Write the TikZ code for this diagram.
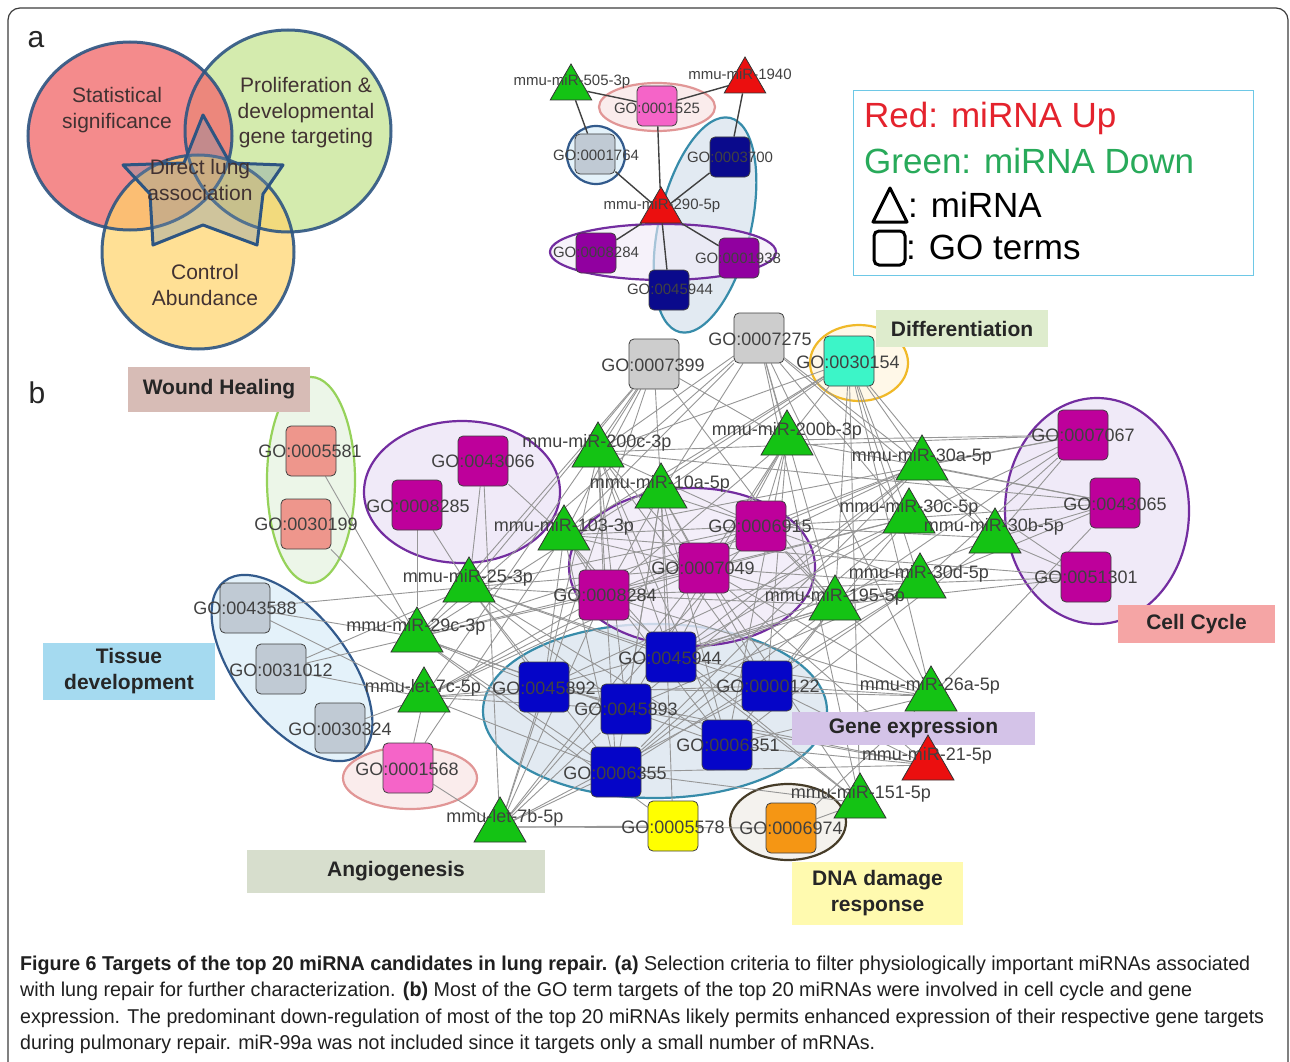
\documentclass[tikz,border=0pt]{standalone}
\usepackage{fontspec}
\usepackage{graphicx}
\setmainfont{Liberation Sans}
\usetikzlibrary{shapes.geometric}
\pgfdeclarelayer{bg}
\pgfdeclarelayer{edges}
\pgfsetlayers{bg,edges,main}
\definecolor{mirg}{RGB}{20,195,20}
\definecolor{mirr}{RGB}{235,15,15}
\definecolor{gomag}{RGB}{190,0,155}
\definecolor{gonavy}{RGB}{5,5,200}
\definecolor{gonavyd}{RGB}{10,10,140}
\definecolor{gopurp}{RGB}{145,0,160}
\definecolor{gogray}{RGB}{205,205,205}
\definecolor{gogrblue}{RGB}{192,202,212}
\definecolor{gosalmon}{RGB}{238,150,140}
\definecolor{gopink}{RGB}{245,100,200}
\definecolor{gocyan}{RGB}{60,245,200}
\definecolor{goyellow}{RGB}{255,255,0}
\definecolor{goorange}{RGB}{245,150,20}
\definecolor{labgray}{RGB}{65,65,65}
\definecolor{edgegray}{RGB}{150,150,150}
\definecolor{framec}{RGB}{60,60,60}
\definecolor{vennred}{RGB}{242,110,112}
\definecolor{venngreen}{RGB}{205,232,160}
\definecolor{vennyellow}{RGB}{255,212,105}
\definecolor{vennline}{RGB}{45,85,130}
\definecolor{starc}{RGB}{120,145,170}
\definecolor{venntext}{RGB}{65,50,50}
\definecolor{legc}{RGB}{110,200,230}
\definecolor{legred}{RGB}{228,35,45}
\definecolor{leggreen}{RGB}{40,170,90}
\definecolor{purpd}{RGB}{115,45,160}\definecolor{purpf}{RGB}{240,234,248}
\definecolor{teald}{RGB}{55,140,170}\definecolor{tealf}{RGB}{226,234,242}
\definecolor{blued}{RGB}{50,90,140}\definecolor{bluef}{RGB}{228,242,250}
\definecolor{greend}{RGB}{150,210,90}\definecolor{greenf}{RGB}{236,246,232}
\definecolor{pinkd}{RGB}{225,150,150}\definecolor{pinkf}{RGB}{250,236,236}
\definecolor{orad}{RGB}{240,185,40}\definecolor{oraf}{RGB}{255,248,232}
\definecolor{darkd}{RGB}{70,60,40}\definecolor{darkf}{RGB}{244,242,238}
\definecolor{cwound}{RGB}{215,188,182}
\definecolor{cdiff}{RGB}{222,236,205}
\definecolor{ctissue}{RGB}{165,218,240}
\definecolor{ccell}{RGB}{245,165,165}
\definecolor{cgene}{RGB}{212,195,232}
\definecolor{cangio}{RGB}{215,222,205}
\definecolor{cdna}{RGB}{255,250,175}
\tikzset{
  tri/.style={regular polygon, regular polygon sides=3, minimum size=60pt, inner sep=0pt, draw=black!80, line width=0.8pt},
  trig/.style={tri, fill=mirg},
  trir/.style={tri, fill=mirr},
  smalltri/.style={minimum size=48pt},
  gosq/.style={rectangle, rounded corners=5pt, minimum size=50pt, inner sep=0pt, draw=black!75, line width=0.8pt},
  smallsq/.style={minimum size=40pt},
  lab/.style={text=labgray, font=\fontsize{18}{18}\selectfont, inner sep=0pt},
  slab/.style={text=labgray, font=\fontsize{15}{15}\selectfont, inner sep=0pt},
  edge/.style={draw=edgegray, line width=0.9pt},
  tedge/.style={draw=black!75, line width=1.4pt},
  grp/.style={line width=2.2pt},
  catbox/.style={font=\fontsize{21}{26}\selectfont\bfseries, text=black!85, align=center, inner sep=0pt},
  venntxt/.style={font=\fontsize{21}{25.5}\selectfont, text=venntext, align=center, inner sep=0pt},
  legtxt/.style={font=\fontsize{35}{35}\selectfont, anchor=west, inner sep=0pt},
  captxt/.style={font=\fontsize{20}{20}\selectfont, text=black!88, anchor=west, inner sep=0pt},
}
\begin{document}
\begin{tikzpicture}[x=1pt,y=-1pt]
\useasboundingbox (0,0) rectangle (1290,1062);
\begin{pgfonlayer}{bg}
\fill[white] (0,0) rectangle (1290,1062);
% group ellipses, top network
\filldraw[grp, draw=pinkd, fill=pinkf] (657,107) ellipse [x radius=58, y radius=24];
\filldraw[grp, draw=blued, fill=bluef] (596,155) circle [radius=29];
\filldraw[grp, draw=teald, fill=tealf, rotate around={76.8:(705,225)}] (705,225) ellipse [x radius=110, y radius=46];
\filldraw[grp, draw=purpd, fill=purpf, fill opacity=0.6] (663,252) ellipse [x radius=113, y radius=28];
% group ellipses, network b
\filldraw[grp, draw=greend, fill=greenf] (311,480) ellipse [x radius=44, y radius=103];
\filldraw[grp, draw=purpd, fill=purpf] (462,492) ellipse [x radius=98, y radius=71];
\filldraw[grp, draw=teald, fill=tealf] (655,711) ellipse [x radius=172, y radius=87];
\filldraw[grp, draw=purpd, fill=purpf, fill opacity=0.8] (692,567) ellipse [x radius=123, y radius=79];
\filldraw[grp, draw=purpd, fill=purpf] (1097,511) ellipse [x radius=92, y radius=113];
\filldraw[grp, draw=blued, fill=bluef, rotate around={-52:(292,668)}] (292,668) ellipse [x radius=110, y radius=55];
\filldraw[grp, draw=pinkd, fill=pinkf] (410,778) ellipse [x radius=67, y radius=31];
\filldraw[grp, draw=orad, fill=oraf] (859,363) ellipse [x radius=49, y radius=38];
\filldraw[grp, draw=darkd, fill=darkf] (788,822) ellipse [x radius=58, y radius=38];
\end{pgfonlayer}

% frame
\draw[framec, line width=1.2pt, rounded corners=12pt] (8,1075) -- (8,8) -- (1288,8) -- (1288,1075);

% ---------- panel a : Venn ----------
\node[font=\fontsize{30}{30}\selectfont, text=black!85, inner sep=0pt] (la) at (36,40) {a};
\fill[venngreen, fill opacity=0.85] (288,131) ellipse [x radius=103, y radius=101];
\fill[vennred, fill opacity=0.8] (130,136) ellipse [x radius=102, y radius=94];
\fill[vennyellow, fill opacity=0.7] (198,252) ellipse [x radius=96, y radius=97];
\draw[vennline, line width=3pt, draw opacity=0.9] (288,131) ellipse [x radius=103, y radius=101];
\draw[vennline, line width=3pt, draw opacity=0.9] (130,136) ellipse [x radius=102, y radius=94];
\draw[vennline, line width=3pt, draw opacity=0.9] (198,252) ellipse [x radius=96, y radius=97];
\filldraw[fill=starc, fill opacity=0.35, draw=vennline, line width=3pt, line join=round]
  (203,115) -- (230,163) -- (283,165) -- (263,194) -- (257,245) -- (203,225) -- (153,245) -- (150,194) -- (123,165) -- (184,163) -- cycle;
\node[venntxt] (vstat) at (117,110) {Statistical\\significance};
\node[venntxt] (vprol) at (306,113) {Proliferation \&\\developmental\\gene targeting};
\node[venntxt] (vdir) at (200,180) {Direct lung\\association};
\node[venntxt] (vctrl) at (205,285) {Control\\Abundance};

% ---------- legend ----------
\node[draw=legc, line width=1.3pt, minimum width=400pt, minimum height=185pt, anchor=north west, inner sep=0pt] (legend) at (853,90) {};
\node[legtxt, text=legred] (lred) at (864,118) {Red: miRNA Up};
\node[legtxt, text=leggreen] (lgreen) at (864,161) {Green: miRNA Down};
\draw[line width=3pt, line join=round] (873,222) -- (890,188) -- (907,222) -- cycle;
\node[legtxt, text=black] (ltri) at (908,205) {: miRNA};
\draw[line width=3pt, rounded corners=5pt] (874,231) rectangle (905,265);
\node[legtxt, text=black] (lsq) at (906,247) {: GO terms};

% ---------- top network ----------
\node[trig, smalltri] (t505) at (571,88) {};
\node[trir, smalltri] (t1940) at (745,81) {};
\node[trir, smalltri] (t290) at (661,211) {};
\node[gosq, smallsq, fill=gopink] (tg1525) at (657,106) {};
\node[gosq, smallsq, fill=gogrblue] (tg1764) at (595,154) {};
\node[gosq, smallsq, fill=gonavyd] (tg3700) at (730,157) {};
\node[gosq, smallsq, fill=gopurp] (tg8284) at (596,253) {};
\node[gosq, smallsq, fill=gopurp] (tg1938) at (739,258) {};
\node[gosq, smallsq, fill=gonavyd] (tg45944) at (669,290) {};
\begin{pgfonlayer}{edges}
\foreach \a/\b in {t505/tg1525, t505/tg1764, t1940/tg1525, t1940/tg3700, t290/tg1525, t290/tg1764, t290/tg3700, t290/tg8284, t290/tg45944, t290/tg1938}
  \draw[tedge] (\a) -- (\b);
\end{pgfonlayer}

% ---------- network b : GO terms ----------
\node[font=\fontsize{30}{30}\selectfont, text=black!85, inner sep=0pt] (lb) at (37,393) {b};
\node[gosq, fill=gogray] (g7399) at (654,364) {};
\node[gosq, fill=gogray] (g7275) at (759,338) {};
\node[gosq, fill=gocyan] (g30154) at (849,361) {};
\node[gosq, fill=gosalmon] (g5581) at (311,451) {};
\node[gosq, fill=gosalmon] (g30199) at (306,524) {};
\node[gosq, fill=gomag] (g43066) at (483,461) {};
\node[gosq, fill=gomag] (g8285) at (417,505) {};
\node[gosq, fill=gomag] (g6915) at (761,526) {};
\node[gosq, fill=gomag] (g7049) at (704,568) {};
\node[gosq, fill=gomag] (g8284) at (604,595) {};
\node[gosq, fill=gomag] (g7067) at (1083,435) {};
\node[gosq, fill=gomag] (g43065) at (1115,503) {};
\node[gosq, fill=gomag] (g51301) at (1086,577) {};
\node[gosq, fill=gogrblue] (g43588) at (245,608) {};
\node[gosq, fill=gogrblue] (g31012) at (281,669) {};
\node[gosq, fill=gogrblue] (g30324) at (340,728) {};
\node[gosq, fill=gopink] (g1568) at (408,768) {};
\node[gosq, fill=gonavy] (g45944) at (671,657) {};
\node[gosq, fill=gonavy] (g45892) at (544,687) {};
\node[gosq, fill=gonavy] (g45893) at (626,709) {};
\node[gosq, fill=gonavy] (g122) at (767,686) {};
\node[gosq, fill=gonavy] (g6351) at (727,745) {};
\node[gosq, fill=gonavy] (g6355) at (616,772) {};
\node[gosq, fill=goyellow] (g5578) at (673,826) {};
\node[gosq, fill=goorange] (g6974) at (791,828) {};

% ---------- category boxes ----------
\node[catbox, fill=cwound, minimum width=182pt, minimum height=45pt] (cwoundb) at (219,389.5) {Wound Healing};
\node[catbox, fill=cdiff, minimum width=172pt, minimum height=37pt] (cdiffb) at (962,328.5) {Differentiation};
\node[catbox, fill=ctissue, minimum width=172pt, minimum height=57pt] (ctissueb) at (129,671.5) {Tissue\\development};
\node[catbox, fill=ccell, minimum width=157pt, minimum height=38pt] (ccellb) at (1196.5,624) {Cell Cycle};
\node[catbox, fill=cgene, minimum width=243pt, minimum height=33pt] (cgeneb) at (913.5,728.5) {Gene expression};
\node[catbox, fill=cangio, minimum width=298pt, minimum height=43pt] (cangiob) at (396,871.5) {Angiogenesis};
\node[catbox, fill=cdna, minimum width=171pt, minimum height=63pt] (cdnab) at (877.5,893.5) {DNA damage\\response};

% ---------- network b : miRNAs ----------
\node[trig] (t200c) at (598,452) {};
\node[trig] (t10a) at (661,493) {};
\node[trig] (t103) at (564,535) {};
\node[trig] (t25) at (469,587) {};
\node[trig] (t29c) at (417,637) {};
\node[trig] (t200b) at (787,440) {};
\node[trig] (t30a) at (922,465) {};
\node[trig] (t30c) at (909,518) {};
\node[trig] (t30b) at (995,538) {};
\node[trig] (t30d) at (920,583) {};
\node[trig] (t195) at (835,605) {};
\node[trig] (t7c) at (424,697) {};
\node[trig] (t26a) at (931,696) {};
\node[trir] (t21) at (928,765) {};
\node[trig] (t151) at (860,803) {};
\node[trig] (t7b) at (500,827) {};

\begin{pgfonlayer}{edges}
\foreach \m/\gs in {
  t200c/{g7399,g7275,g30154,g45944,g45892,g45893,g6351,g6355,g7049,g8284,g6915,g122,g7067,g43065},
  t10a/{g7399,g7275,g30154,g45944,g45893,g6355,g7049,g8284,g6915,g122,g6351,g5578},
  t103/{g7399,g7275,g30154,g43066,g7049,g6915,g45944,g45892,g6355,g6351,g7067,g51301,g8284,g1568},
  t25/{g8285,g43066,g7399,g7049,g8284,g45944,g45892,g45893,g6355,g6351,g122,g31012,g43588,g6915},
  t29c/{g5581,g30199,g8285,g43588,g31012,g7399,g7275,g45892,g45893,g6355,g6351,g8284,g7049,g5578,g30154,g6915},
  t200b/{g7399,g7275,g30154,g7049,g6915,g45944,g45893,g122,g6351,g7067,g43065,g8284},
  t30a/{g7275,g30154,g7067,g43065,g51301,g45944,g45893,g6355,g7049,g6915,g8284},
  t30c/{g7275,g30154,g7067,g43065,g45944,g45892,g7049,g6915,g8284,g6355,g122},
  t30b/{g7067,g43065,g51301,g30154,g7275,g45944,g6351,g6915},
  t30d/{g30154,g7067,g43065,g51301,g45944,g45892,g45893,g6915,g7049,g8284,g6355,g122},
  t195/{g7399,g7275,g30154,g8284,g7049,g6915,g45944,g6351,g6355,g51301,g7067},
  t7c/{g30324,g1568,g31012,g43588,g45892,g45893,g6355,g8284,g7049,g6915,g7399,g122},
  t26a/{g7275,g30154,g45944,g45892,g122,g6351,g6915,g7049,g8284,g6974,g43065},
  t21/{g45893,g6355,g6351,g45892,g7049,g122},
  t151/{g6974,g45944,g6355,g7049,g7275,g30154,g8284},
  t7b/{g5578,g6974,g1568,g45892,g45893,g6355,g8284,g7049,g6915,g7399,g43066,g122}}
  { \foreach \g in \gs { \draw[edge] (\m) -- (\g); } }
\end{pgfonlayer}

% ---------- labels ----------
\node[slab] (lt505) at (572,82) {mmu-miR-505-3p};
\node[slab] (lt1940) at (740,74) {mmu-miR-1940};
\node[slab] (lt290) at (662,206) {mmu-miR-290-5p};
\node[slab] (ltg1525) at (657,108) {GO:0001525};
\node[slab] (ltg1764) at (596,155) {GO:0001764};
\node[slab] (ltg3700) at (730,157) {GO:0003700};
\node[slab] (ltg8284) at (596,252) {GO:0008284};
\node[slab] (ltg1938) at (738,258) {GO:0001938};
\node[slab] (ltg45944) at (670,289) {GO:0045944};

\node[lab] (lg7399) at (653,365) {GO:0007399};
\node[lab] (lg7275) at (760,339) {GO:0007275};
\node[lab] (lg30154) at (848,362) {GO:0030154};
\node[lab] (lg5581) at (310,451) {GO:0005581};
\node[lab] (lg30199) at (306,524) {GO:0030199};
\node[lab] (lg43066) at (483,461) {GO:0043066};
\node[lab] (lg8285) at (418,506) {GO:0008285};
\node[lab] (lg6915) at (760,526) {GO:0006915};
\node[lab] (lg7049) at (703,568) {GO:0007049};
\node[lab] (lg8284) at (605,595) {GO:0008284};
\node[lab] (lg7067) at (1083,435) {GO:0007067};
\node[lab] (lg43065) at (1115,504) {GO:0043065};
\node[lab] (lg51301) at (1086,577) {GO:0051301};
\node[lab] (lg43588) at (245,608) {GO:0043588};
\node[lab] (lg31012) at (281,670) {GO:0031012};
\node[lab] (lg30324) at (340,729) {GO:0030324};
\node[lab] (lg1568) at (407,769) {GO:0001568};
\node[lab] (lg45944) at (670,658) {GO:0045944};
\node[lab] (lg45892) at (544,688) {GO:0045892};
\node[lab] (lg45893) at (626,709) {GO:0045893};
\node[lab] (lg122) at (768,686) {GO:0000122};
\node[lab] (lg6351) at (728,745) {GO:0006351};
\node[lab] (lg6355) at (615,773) {GO:0006355};
\node[lab] (lg5578) at (673,827) {GO:0005578};
\node[lab] (lg6974) at (791,828) {GO:0006974};

\node[lab] (lt200c) at (597,443) {mmu-miR-200c-3p};
\node[lab] (lt10a) at (660,484) {mmu-miR-10a-5p};
\node[lab] (lt103) at (564,527) {mmu-miR-103-3p};
\node[lab] (lt25) at (468,578) {mmu-miR-25-3p};
\node[lab] (lt29c) at (416,627) {mmu-miR-29c-3p};
\node[lab] (lt200b) at (787,431) {mmu-miR-200b-3p};
\node[lab] (lt30a) at (922,457) {mmu-miR-30a-5p};
\node[lab] (lt30c) at (909,508) {mmu-miR-30c-5p};
\node[lab] (lt30b) at (994,527) {mmu-miR-30b-5p};
\node[lab] (lt30d) at (919,574) {mmu-miR-30d-5p};
\node[lab] (lt195) at (835,597) {mmu-miR-195-5p};
\node[lab] (lt7c) at (423,688) {mmu-let-7c-5p};
\node[lab] (lt26a) at (930,686) {mmu-miR-26a-5p};
\node[lab] (lt21) at (927,756) {mmu-miR-21-5p};
\node[lab] (lt151) at (861,794) {mmu-miR-151-5p};
\node[lab] (lt7b) at (505,818) {mmu-let-7b-5p};

% ---------- caption ----------
\node[captxt] (cap1) at (20,965) {\resizebox{1230pt}{\height}{\textbf{Figure 6 Targets of the top 20 miRNA candidates in lung repair. (a)} Selection criteria to filter physiologically important miRNAs associated}};
\node[captxt] (cap2) at (20,991) {\resizebox{1172pt}{\height}{with lung repair for further characterization. \textbf{(b)} Most of the GO term targets of the top 20 miRNAs were involved in cell cycle and gene}};
\node[captxt] (cap3) at (20,1018) {\resizebox{1244pt}{\height}{expression. The predominant down-regulation of most of the top 20 miRNAs likely permits enhanced expression of their respective gene targets}};
\node[captxt] (cap4) at (20,1044) {\resizebox{855pt}{\height}{during pulmonary repair. miR-99a was not included since it targets only a small number of mRNAs.}};
\end{tikzpicture}
\end{document}
